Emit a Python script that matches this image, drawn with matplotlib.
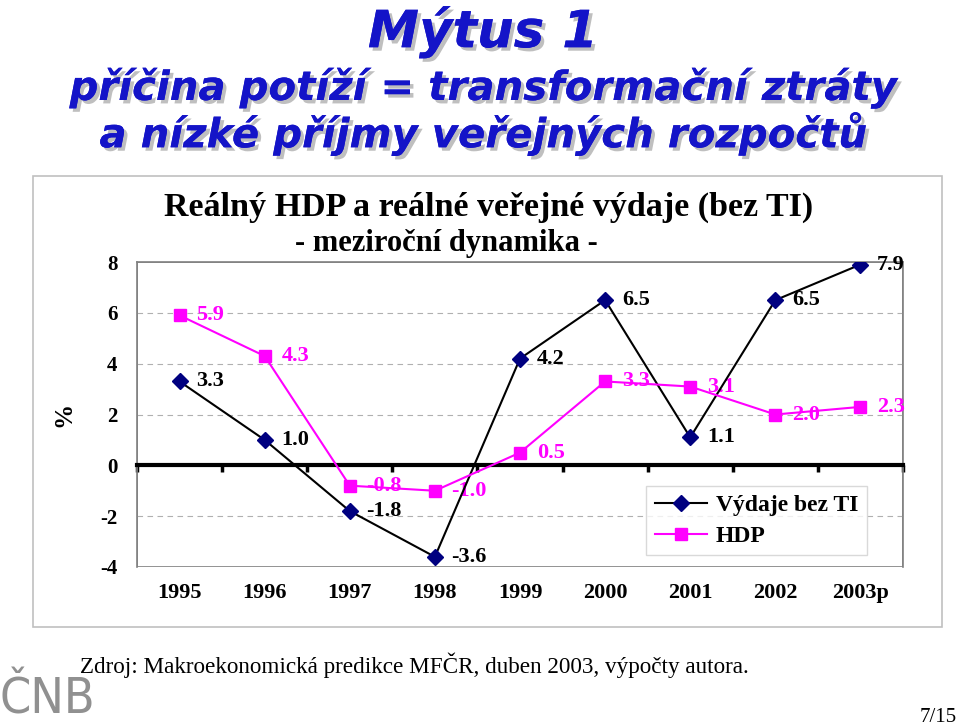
import matplotlib
matplotlib.use('Agg')
import matplotlib.pyplot as plt
import matplotlib.patheffects as pe
from matplotlib.patches import Rectangle
import matplotlib.transforms as mtransforms

# data
years = ['1995', '1996', '1997', '1998', '1999', '2000', '2001', '2002', '2003p']
vydaje = [3.3, 1.0, -1.8, -3.6, 4.2, 6.5, 1.1, 6.5, 7.9]
hdp = [5.9, 4.3, -0.8, -1.0, 0.5, 3.3, 3.1, 2.0, 2.3]
yticks = [-4, -2, 0, 2, 4, 6, 8]

serif = 'Liberation Serif'
blue = '#1414c8'
magenta = '#ff00ff'
navy = '#000080'

fig = plt.figure(figsize=(9.6, 7.27), dpi=100)

# heading
shadow = [pe.withSimplePatchShadow(offset=(2.5, -2.5), shadow_rgbFace='#808080', alpha=0.5), pe.Normal()]
heads = [('Mýtus 1', 0.956, 37), ('příčina potíží = transformační ztráty', 0.879, 29),
         ('a nízké příjmy veřejných rozpočtů', 0.816, 29)]
for txt, yy, fs in heads:
    fig.text(0.503, yy, txt, ha='center', va='center', fontsize=fs, color=blue,
             fontweight='bold', style='italic', family='DejaVu Sans', path_effects=shadow)

# chart frame
fig.patches.append(Rectangle((33 / 960, 1 - 627 / 727), 909 / 960, 451 / 727,
                             transform=fig.transFigure, fill=False, edgecolor='#c0c0c0', lw=1.2))

fig.text(489 / 960, 1 - 207 / 727, 'Reálný HDP a reálné veřejné výdaje (bez TI)', ha='center', va='center',
         fontsize=24.5, fontweight='bold', family=serif)
fig.text(446 / 960, 1 - 244 / 727, '- meziroční dynamika -', ha='center', va='center',
         fontsize=22, fontweight='bold', family=serif)

ax = fig.add_axes([137 / 960, 1 - 567 / 727, 766 / 960, 305 / 727])
x = list(range(len(years)))

ax.plot(x, vydaje, color='black', lw=1.5, marker='D', ms=8, mfc=navy, mec=navy, label='Výdaje bez TI', zorder=4)
ax.plot(x, hdp, color=magenta, lw=1.5, marker='s', ms=8, mfc=magenta, mec=magenta, label='HDP', zorder=4)

for i, v in enumerate(vydaje):
    ax.annotate(f'{v:.1f}', (i, v), xytext=(12, 0), textcoords='offset points', va='center', ha='left',
                fontsize=16, fontweight='bold', family=serif, color='black', zorder=5)
for i, v in enumerate(hdp):
    ax.annotate(f'{v:.1f}', (i, v), xytext=(12, 0), textcoords='offset points', va='center', ha='left',
                fontsize=16, fontweight='bold', family=serif, color=magenta, zorder=3)

ax.set_xlim(-0.5, len(years) - 0.5)
ax.set_ylim(-4, 8)
ax.set_yticks(yticks)
ax.set_yticklabels([str(t) for t in yticks], fontsize=15, fontweight='bold', family=serif)
ax.tick_params(axis='y', length=0, pad=14)
for t in yticks:
    if t not in (0, 8, -4):
        ax.axhline(t, color='#b0b0b0', lw=0.8, ls=(0, (5, 4)), zorder=1)

for s in ['left', 'top', 'right']:
    ax.spines[s].set_color('#808080')
    ax.spines[s].set_linewidth(1.2)
ax.spines['bottom'].set_position(('data', 0))
ax.spines['bottom'].set_color('black')
ax.spines['bottom'].set_linewidth(3)
ax.add_patch(Rectangle((0, 0), 1, 1, transform=ax.transAxes, fill=False, edgecolor='#808080', lw=1.2, zorder=0))
ax.set_xticks([i - 0.5 for i in range(len(years) + 1)])
ax.set_xticklabels([])
ax.tick_params(axis='x', direction='out', length=5, width=2.5, color='black')

trans = mtransforms.blended_transform_factory(ax.transData, ax.transAxes)
for i, yr in enumerate(years):
    ax.text(i, -0.085, yr, transform=trans, ha='center', va='center', fontsize=16,
            fontweight='bold', family=serif)

ax.set_ylabel('%', fontsize=18, fontweight='bold', family=serif, labelpad=18)

leg = ax.legend(loc='lower right', bbox_to_anchor=(0.968, 0.0), prop={'family': serif, 'weight': 'bold', 'size': 17},
                frameon=True, fancybox=False, edgecolor='#d0d0d0', handlelength=2.2, borderpad=0.35,
                labelspacing=0.4, handletextpad=0.4)
leg.get_frame().set_linewidth(1)

fig.text(80 / 960, 1 - 665 / 727, 'Zdroj: Makroekonomická predikce MFČR, duben 2003, výpočty autora.',
         ha='left', va='center', fontsize=16.7, family=serif)
fig.text(0 / 960, 1 - 699 / 727, 'ČNB', ha='left', va='center', fontsize=36, color='#909090',
         family='DejaVu Sans', fontstretch='condensed')
fig.text(957 / 960, 1 - 717 / 727, '7/15', ha='right', va='center', fontsize=15, family=serif)

fig.savefig('out.png', dpi=100)
